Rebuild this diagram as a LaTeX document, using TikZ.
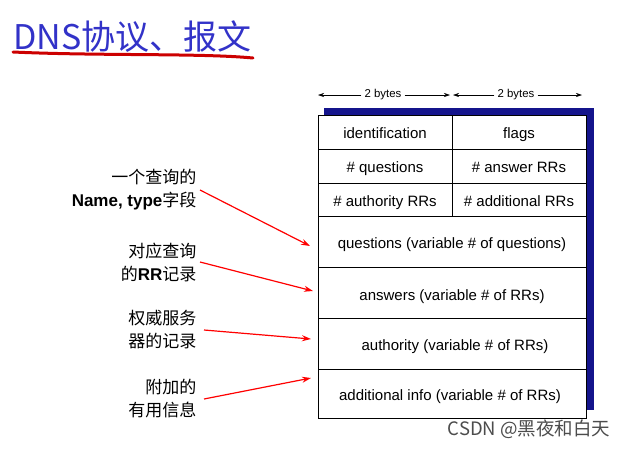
\documentclass[tikz,border=0pt]{standalone}
\usepackage{fontspec}
\setmainfont{Liberation Sans}
\newfontfamily\cjk{Noto Sans CJK SC}
\usetikzlibrary{arrows.meta}
\definecolor{ttl}{RGB}{50,50,200}
\definecolor{shd}{RGB}{20,20,140}
\tikzset{cell/.style={draw=black,line width=0.8pt,fill=white},
 txt/.style={font=\fontsize{15}{17}\selectfont,text=black,text height=11pt,text depth=3.5pt,yshift=-2.5pt},
 lbl/.style={font=\fontsize{17}{23}\selectfont\cjk,align=right,anchor=east},
 rarr/.style={red,line width=1.2pt,-{Stealth[length=9pt,width=6pt]}},
 barr/.style={line width=0.6pt,-{Stealth[length=6pt,width=4pt]}}}
\begin{document}
\begin{tikzpicture}[x=1pt,y=-1pt]
\useasboundingbox (0,0) rectangle (626,448);
\node[anchor=west,text=ttl,font=\fontsize{34}{38}\selectfont\cjk,inner sep=0] (title) at (13,37) {DNS协议、报文};
\draw[red!80!black,line width=3pt,line cap=round] (13,52) .. controls (100,56) and (200,53) .. (253,58);
\fill[shd] (324,108) rectangle (594,410);
\foreach \t/\b in {115/149,149/183,183/216}{
 \draw[cell] (318,\t) rectangle (452,\b);
 \draw[cell] (452,\t) rectangle (586,\b);}
\foreach \t/\b in {216/267,267/318,318/369,369/418}{
 \draw[cell] (318,\t) rectangle (586,\b);}
\node[txt] (id) at (385,132) {identification};
\node[txt] (fl) at (519,132) {flags};
\node[txt] (q) at (385,166) {\# questions};
\node[txt] (an) at (519,166) {\# answer RRs};
\node[txt] (au) at (385,200) {\# authority RRs};
\node[txt] (ad) at (519,200) {\# additional RRs};
\node[txt] (qs) at (452,242) {questions (variable \# of questions)};
\node[txt] (as) at (452,294) {answers (variable \# of RRs)};
\node[txt] (aus) at (455,344) {authority (variable \# of RRs)};
\node[txt] (ads) at (450,394) {additional info (variable \# of RRs)};
\node[font=\fontsize{11.4}{13}\selectfont,fill=white,inner sep=3pt,text height=8pt,text depth=2.5pt] (b1) at (383,95) {2 bytes};
\node[font=\fontsize{11.4}{13}\selectfont,fill=white,inner sep=3pt,text height=8pt,text depth=2.5pt] (b2) at (516,95) {2 bytes};
\draw[barr] (b1.west) -- (318,95);
\draw[barr] (b1.east) -- (450,95);
\draw[barr] (b2.west) -- (453,95);
\draw[barr] (b2.east) -- (582,95);
\node[lbl] (l1) at (200,190) {一个查询的\\\textbf{\fontspec{Liberation Sans}Name, type}字段};
\node[lbl] (l2) at (200,262) {对应查询\\的\textbf{\fontspec{Liberation Sans}RR}记录};
\node[lbl] (l3) at (200,330) {权威服务\\器的记录};
\node[lbl] (l4) at (200,399) {附加的\\有用信息};
\coordinate (e1) at (310,246);
\coordinate (e2) at (313,291);
\coordinate (e3) at (311,339);
\coordinate (e4) at (311,378);
\draw[rarr] (l1.east) -- (e1);
\draw[rarr] (l2.east) -- (e2);
\draw[rarr] ([xshift=4pt]l3.east) -- (e3);
\draw[rarr] ([xshift=4pt]l4.east) -- (e4);
\node[anchor=south east,font=\fontsize{18.5}{20}\selectfont\cjk,text=black!70] (csdn) at (614,442) {CSDN @黑夜和白天};
\end{tikzpicture}
\end{document}
